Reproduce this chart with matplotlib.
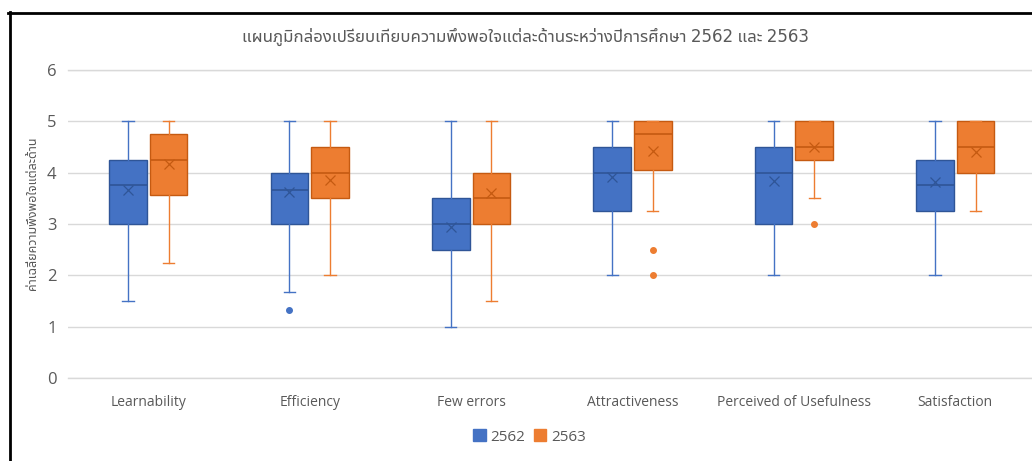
import matplotlib
matplotlib.use('Agg')
import matplotlib.pyplot as plt
from matplotlib.patches import Patch
from matplotlib.lines import Line2D

plt.rcParams['font.family'] = ['Open Sans', 'Noto Sans Thai', 'DejaVu Sans']

categories = ['Learnability', 'Efficiency', 'Few errors', 'Attractiveness',
              'Perceived of Usefulness', 'Satisfaction']
years = ['2562', '2563']

# five-number summaries, means and outliers per aspect
low_2562 = [1.5, 1.67, 1.0, 2.0, 2.0, 2.0]
q1_2562 = [3.0, 3.0, 2.5, 3.25, 3.0, 3.25]
med_2562 = [3.75, 3.67, 3.0, 4.0, 4.0, 3.75]
q3_2562 = [4.25, 4.0, 3.5, 4.5, 4.5, 4.25]
high_2562 = [5.0, 5.0, 5.0, 5.0, 5.0, 5.0]
mean_2562 = [3.67, 3.63, 2.94, 3.91, 3.83, 3.82]
out_2562 = [[], [1.33], [], [], [], []]

low_2563 = [2.25, 2.0, 1.5, 3.25, 3.5, 3.25]
q1_2563 = [3.56, 3.5, 3.0, 4.06, 4.25, 4.0]
med_2563 = [4.25, 4.0, 3.5, 4.75, 4.5, 4.5]
q3_2563 = [4.75, 4.5, 4.0, 5.0, 5.0, 5.0]
high_2563 = [5.0, 5.0, 5.0, 5.0, 5.0, 5.0]
mean_2563 = [4.16, 3.85, 3.61, 4.43, 4.5, 4.4]
out_2563 = [[], [], [], [2.5, 2.0], [3.0], []]

title = 'แผนภูมิกล่องเปรียบเทียบความพึงพอใจแต่ละด้านระหว่างปีการศึกษา 2562 และ 2563'
ylabel = 'ค่าเฉลี่ยความพึงพอใจแต่ละด้าน'

grey = '#595959'
gridc = '#D9D9D9'
series = [
    (low_2562, q1_2562, med_2562, q3_2562, high_2562, mean_2562, out_2562,
     '#4472C4', '#2F5597', -0.126),
    (low_2563, q1_2563, med_2563, q3_2563, high_2563, mean_2563, out_2563,
     '#ED7D31', '#C55A11', 0.126),
]

fig = plt.figure(figsize=(10.32, 4.61), dpi=100)
W, H = 1032, 461
ax = fig.add_axes([67.6 / W, (H - 378) / H, (1036 - 67.6) / W, 308 / H])

for lo, q1, md, q3, hi, mn, fl, col, dark, off in series:
    stats = []
    for i in range(len(categories)):
        stats.append(dict(whislo=lo[i], q1=q1[i], med=md[i], q3=q3[i],
                          whishi=hi[i], mean=mn[i], fliers=fl[i]))
    pos = [i + off for i in range(len(categories))]
    ax.bxp(stats, positions=pos, widths=0.233, capwidths=0.07,
           showmeans=True, patch_artist=True, manage_ticks=False,
           boxprops=dict(facecolor=col, edgecolor=dark, linewidth=1),
           medianprops=dict(color=dark, linewidth=1.2),
           whiskerprops=dict(color=col, linewidth=1),
           capprops=dict(color=col, linewidth=1),
           meanprops=dict(marker='x', markeredgecolor=dark, markersize=7.5,
                          markeredgewidth=0.9),
           flierprops=dict(marker='o', markerfacecolor=col, markeredgecolor=col,
                           markersize=4))

ax.set_xlim(-0.5, len(categories) - 0.5)
ax.set_ylim(0, 6)
ax.set_yticks(range(0, 7))
ax.set_xticks(range(len(categories)))
ax.set_xticklabels(categories)
ax.yaxis.grid(True, color=gridc, linewidth=1)
ax.set_axisbelow(True)
for side in ['left', 'right']:
    ax.spines[side].set_visible(False)
for side in ['top', 'bottom']:
    ax.spines[side].set_color(gridc)
    ax.spines[side].set_linewidth(1)
ax.tick_params(axis='both', length=0, colors=grey)
ax.tick_params(axis='y', labelsize=12, pad=8)
ax.tick_params(axis='x', labelsize=10, pad=12)

thai = ['Noto Sans Thai UI', 'DejaVu Sans']
fig.text(525 / W, 1 - 37 / H, title, ha='center', va='center',
         fontsize=12.1, color=grey, family=thai)
fig.text(33 / W, 1 - 213 / H, ylabel, ha='center', va='center', rotation=90,
         fontsize=9, color=grey, family=thai)

handles = [Patch(facecolor=s[7], edgecolor=s[7]) for s in series]
fig.legend(handles, years, loc='center', bbox_to_anchor=(529.5 / W, 1 - 437 / H),
           ncol=2, frameon=False, fontsize=11, handlelength=0.8,
           handleheight=0.8, handletextpad=0.3, columnspacing=0.6,
           labelcolor=grey)

# black frame along the top and left edges
fig.add_artist(Line2D([8 / W, 1], [1 - 13.5 / H, 1 - 13.5 / H],
                      color='black', linewidth=2, transform=fig.transFigure))
fig.add_artist(Line2D([9.5 / W, 9.5 / W], [0, 1 - 12.5 / H],
                      color='black', linewidth=2, transform=fig.transFigure))

fig.savefig('out.png', dpi=100)
